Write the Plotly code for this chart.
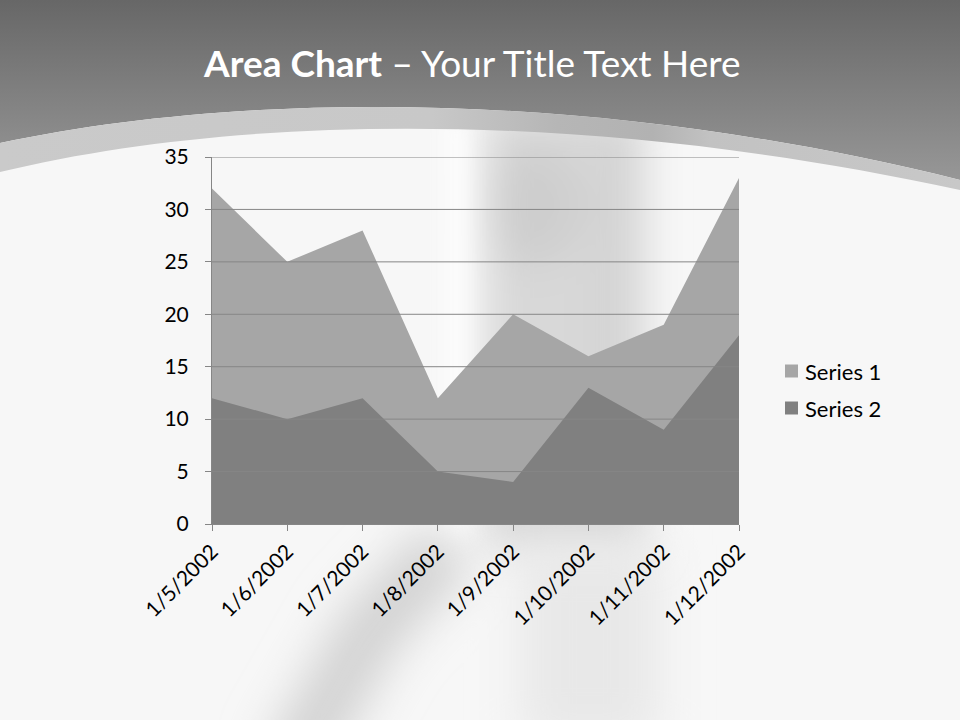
import base64
import plotly.graph_objects as go

# ---------------- data ----------------
dates = ["1/5/2002", "1/6/2002", "1/7/2002", "1/8/2002",
         "1/9/2002", "1/10/2002", "1/11/2002", "1/12/2002"]
series1 = [32, 25, 28, 12, 20, 16, 19, 33]
series2 = [12, 10, 12, 5, 4, 13, 9, 18]
series_names = ["Series 1", "Series 2"]
y_ticks = [0, 5, 10, 15, 20, 25, 30, 35]
title_bold = "Area Chart"
title_rest = " \u2013 Your Title Text Here"

# ---------------- layout helpers ----------------
W, H = 960, 720
L, R, T, B = 212, 221, 157, 196
PW, PH = W - L - R, H - T - B
FONT = "Lato, 'Open Sans', sans-serif"
colors = ["#A6A6A6", "#808080"]
grid_color = "#868686"


def px_x(px):
    return (px - L) / PW


def px_y(py):
    return (H - B - py) / PH


# ---------------- background (slide design) ----------------
svg = f"""<svg xmlns="http://www.w3.org/2000/svg" width="{W}" height="{H}" viewBox="0 0 {W} {H}">
<defs>
  <linearGradient id="top" x1="0" y1="0" x2="0" y2="1">
    <stop offset="0" stop-color="#676767"/>
    <stop offset="1" stop-color="#979797"/>
  </linearGradient>
  <linearGradient id="band" x1="0" y1="0" x2="1" y2="0">
    <stop offset="0" stop-color="#cacaca"/>
    <stop offset="0.45" stop-color="#c8c8c8"/>
    <stop offset="0.58" stop-color="#b6b6b6"/>
    <stop offset="0.68" stop-color="#b2b2b2"/>
    <stop offset="0.74" stop-color="#c2c2c2"/>
    <stop offset="1" stop-color="#c8c8c8"/>
  </linearGradient>
  <filter id="blur" x="-80%" y="-80%" width="260%" height="260%">
    <feGaussianBlur stdDeviation="20"/>
  </filter>
  <filter id="blur2" x="-80%" y="-80%" width="260%" height="260%">
    <feGaussianBlur stdDeviation="24"/>
  </filter>
  <filter id="blur3" x="-200%" y="-80%" width="500%" height="260%">
    <feGaussianBlur stdDeviation="10"/>
  </filter>
</defs>
<rect width="{W}" height="{H}" fill="#f7f7f7"/>
<g filter="url(#blur)">
  <rect x="485" y="110" width="160" height="440" fill="#d8d8d8"/>
  <ellipse cx="535" cy="205" rx="48" ry="60" fill="#cecece"/>
  <rect x="595" y="130" width="40" height="380" fill="#d3d3d3"/>
</g>
<rect x="445" y="120" width="22" height="420" fill="#fdfdfd" filter="url(#blur3)"/>
<g filter="url(#blur2)">
  <path d="M290,770 L370,630 L450,545" stroke="#d0d0d0" stroke-width="60" fill="none"/>
  <rect x="520" y="545" width="140" height="200" fill="#e8e8e8"/>
</g>
<path d="M0,0 H{W} V180 C600,90 250,90 0,143 Z" fill="url(#top)"/>
<path d="M0,143 C250,90 600,90 960,180 L960,190 C600,111.5 250,111.5 0,172 Z" fill="url(#band)"/>
</svg>"""
bg_uri = "data:image/svg+xml;base64," + base64.b64encode(svg.encode("utf-8")).decode("ascii")

# ---------------- figure ----------------
fig = go.Figure()
for name, vals, col in zip(series_names, [series1, series2], colors):
    fig.add_trace(go.Scatter(
        x=dates, y=vals, name=name, mode="none",
        fill="tozeroy", fillcolor=col, showlegend=False,
        hoverinfo="x+y+name",
    ))

shapes = []
for v in y_ticks[1:]:
    shapes.append(dict(type="line", xref="paper", yref="y", x0=0, x1=1,
                       y0=v, y1=v, layer="above",
                       line=dict(color=grid_color, width=1)))

annotations = [dict(
    text=f"<b>{title_bold}</b>{title_rest}", xref="paper", yref="paper",
    x=px_x(472), y=px_y(62), xanchor="center", yanchor="middle",
    showarrow=False, font=dict(family=FONT, size=37, color="#ffffff"),
)]

# manual legend (square swatches like the original)
for i, (name, col) in enumerate(zip(series_names, colors)):
    cy = 371 + 37 * i
    shapes.append(dict(type="rect", xref="paper", yref="paper",
                       x0=px_x(785), x1=px_x(798),
                       y0=px_y(cy + 6.5), y1=px_y(cy - 6.5),
                       fillcolor=col, line=dict(width=0)))
    annotations.append(dict(text=name, xref="paper", yref="paper",
                            x=px_x(803), y=px_y(cy), xanchor="left",
                            yanchor="middle", showarrow=False,
                            font=dict(family=FONT, size=22, color="#000000")))

fig.update_layout(
    width=W, height=H,
    margin=dict(l=L, r=R, t=T, b=B, pad=0),
    paper_bgcolor="#f7f7f7",
    plot_bgcolor="rgba(0,0,0,0)",
    showlegend=False,
    font=dict(family=FONT, size=21, color="#000000"),
    xaxis=dict(
        type="category", range=[0, len(dates) - 1],
        showgrid=False, zeroline=False,
        showline=True, linecolor=grid_color, linewidth=1,
        ticks="outside", ticklen=6, tickcolor=grid_color,
        tickangle=-45, tickfont=dict(family=FONT, size=21, color="#000000"),
        layer="above traces", fixedrange=True,
    ),
    yaxis=dict(
        range=[y_ticks[0], y_ticks[-1]], tickvals=y_ticks,
        showgrid=False, zeroline=False,
        showline=True, linecolor=grid_color, linewidth=1,
        ticks="outside", ticklen=6, tickcolor=grid_color,
        ticklabelstandoff=12,
        tickfont=dict(family=FONT, size=21, color="#000000"),
        layer="above traces", fixedrange=True,
    ),
    shapes=shapes,
    annotations=annotations,
    images=[dict(source=bg_uri, xref="paper", yref="paper",
                 x=px_x(0), y=px_y(0), sizex=W / PW, sizey=H / PH,
                 xanchor="left", yanchor="top", sizing="stretch",
                 layer="below")],
)

fig.write_html(
    "out.html",
    config={"displayModeBar": False},
    post_script="document.body.style.margin='0';document.body.style.padding='0';"
                "document.body.style.background='#f7f7f7';",
)
